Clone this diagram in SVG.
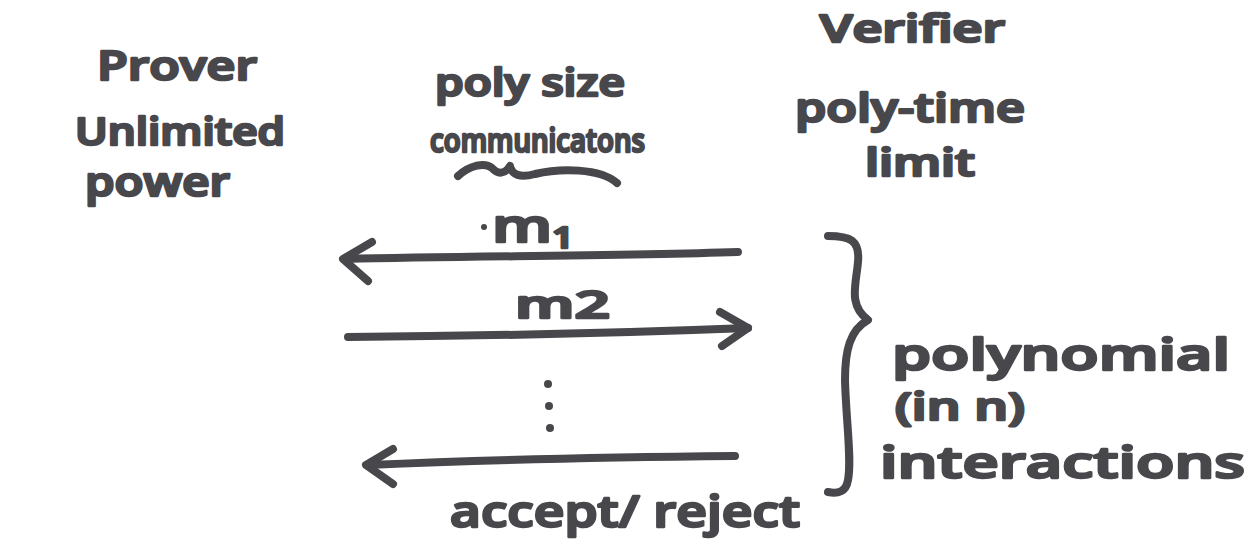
<svg xmlns="http://www.w3.org/2000/svg" width="1259" height="549" viewBox="0 0 1259 549">
  <style>
    .t { font-family: "Open Sans", "Liberation Sans", sans-serif; font-weight: 600; fill: #48484c; stroke: #48484c; stroke-width: 2.5; stroke-linejoin: round; }
    .ink { fill: none; stroke: #48484c; stroke-width: 8; stroke-linecap: round; stroke-linejoin: round; }
  </style>
  <rect width="1259" height="549" fill="#ffffff"/>

  <g id="prover">
    <text class="t" x="97" y="80" font-size="40" textLength="160" lengthAdjust="spacingAndGlyphs">Prover</text>
    <text class="t" x="75" y="145" font-size="38" textLength="210" lengthAdjust="spacingAndGlyphs">Unlimited</text>
    <text class="t" x="85" y="196" font-size="40" textLength="145" lengthAdjust="spacingAndGlyphs">power</text>
  </g>

  <g id="verifier">
    <text class="t" x="820" y="42" font-size="38" textLength="185" lengthAdjust="spacingAndGlyphs">Verifier</text>
    <text class="t" x="795" y="122" font-size="40" textLength="230" lengthAdjust="spacingAndGlyphs">poly-time</text>
    <text class="t" x="865" y="176" font-size="38" textLength="110" lengthAdjust="spacingAndGlyphs">limit</text>
  </g>

  <g id="communication-label">
    <text class="t" x="435" y="96" font-size="38" textLength="190" lengthAdjust="spacingAndGlyphs">poly size</text>
    <text class="t" x="430" y="152" font-size="32" textLength="215" lengthAdjust="spacingAndGlyphs">communicatons</text>
    <path class="ink" d="M458 176 C470 165 485 162 492 168 C498 175 505 174 510 166 C512 175 520 178 535 174 C560 168 600 168 617 183"/>
  </g>

  <g id="messages">
    <text class="t" x="492" y="242" font-size="46" textLength="82" lengthAdjust="spacingAndGlyphs">m<tspan font-size="28" dy="6">1</tspan></text>
    <circle cx="484" cy="227" r="3" fill="#48484c"/>
    <text class="t" x="515" y="318" font-size="38" textLength="95" lengthAdjust="spacingAndGlyphs">m2</text>
    <circle cx="548" cy="384" r="4" fill="#48484c"/>
    <circle cx="549" cy="406" r="4" fill="#48484c"/>
    <circle cx="550" cy="428" r="4" fill="#48484c"/>
    <text class="t" x="450" y="527" font-size="44" textLength="350" lengthAdjust="spacingAndGlyphs">accept/ reject</text>
  </g>

  <g id="connectors">
    <path class="ink" d="M738 252 C620 256 480 256 345 259"/>
    <path class="ink" d="M372 242 L343 259 L368 281"/>
    <path class="ink" d="M348 337 C480 336 620 333 748 328"/>
    <path class="ink" d="M720 312 L748 328 L722 346"/>
    <path class="ink" d="M735 456 C620 457 480 460 368 465"/>
    <path class="ink" d="M393 449 L366 465 L393 484"/>
  </g>

  <g id="interaction-brace">
    <path class="ink" d="M828 236 C850 236 860 240 858 262 C856 285 848 305 868 320 C850 330 845 350 845 380 C846 420 852 460 848 480 C846 492 838 494 828 492"/>
  </g>

  <g id="interaction-count">
    <text class="t" x="892" y="370" font-size="44" textLength="338" lengthAdjust="spacingAndGlyphs">polynomial</text>
    <text class="t" x="895" y="420" font-size="38" textLength="130" lengthAdjust="spacingAndGlyphs">(in  n)</text>
    <text class="t" x="880" y="478" font-size="44" textLength="365" lengthAdjust="spacingAndGlyphs">interactions</text>
  </g>
</svg>
